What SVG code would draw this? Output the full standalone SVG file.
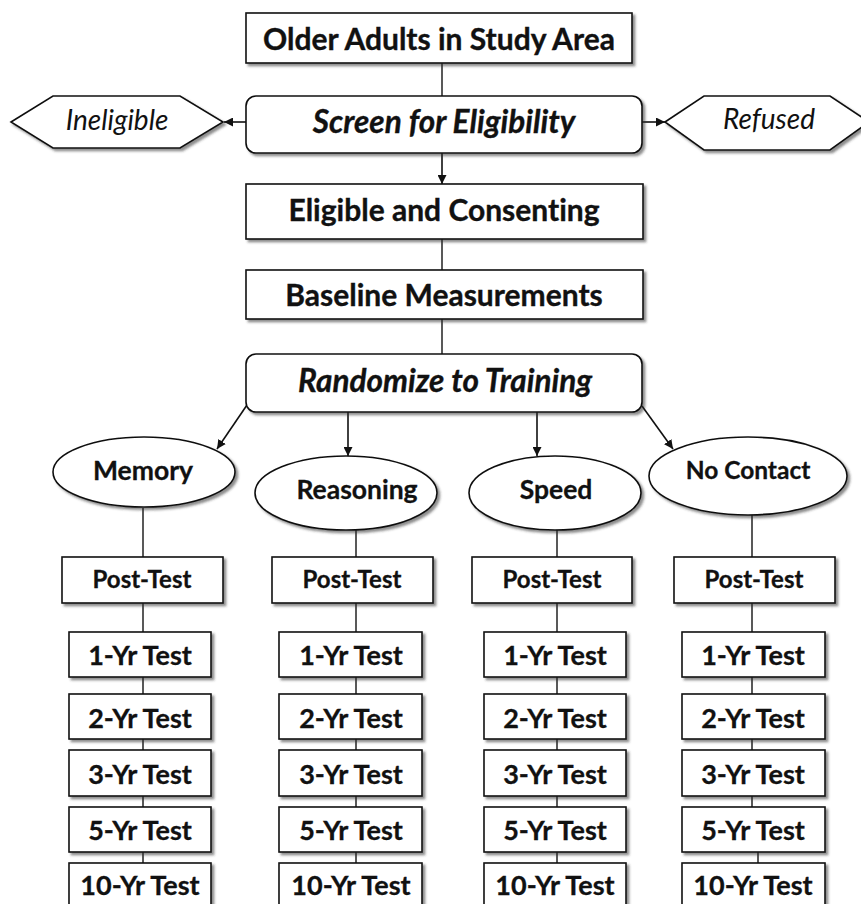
<svg xmlns="http://www.w3.org/2000/svg" width="861" height="904" viewBox="0 0 861 904">
  <defs>
    <filter id="shadow" x="-10%" y="-10%" width="120%" height="130%">
      <feDropShadow dx="2.5" dy="2.5" stdDeviation="0.8" flood-color="#333" flood-opacity="0.55"/>
    </filter>
    <marker id="arrow" viewBox="0 0 10 10" refX="10" refY="5" markerWidth="9" markerHeight="9" markerUnits="userSpaceOnUse" orient="auto">
      <path d="M0,0 L10,5 L0,10 z" fill="#111"/>
    </marker>
    <style>
      .box { fill: #fff; stroke: #111; stroke-width: 1.6; filter: url(#shadow); }
      .line { stroke: #222; stroke-width: 1.5; fill: none; }
      .arr { stroke: #111; stroke-width: 1.6; fill: none; marker-end: url(#arrow); }
      text { font-family: Lato, "Liberation Sans", sans-serif; fill: #111; text-anchor: middle; font-variant-ligatures: none; }
      .big { font-size: 30px; font-weight: bold; stroke: #111; stroke-width: 0.35; }
      .bigi { font-size: 31.5px; font-weight: bold; font-style: italic; stroke: #111; stroke-width: 0.35; }
      .side { font-size: 28px; font-style: italic; }
      .arm { font-size: 26.5px; font-weight: bold; stroke: #111; stroke-width: 0.3; }
      .post { font-size: 24px; font-weight: bold; stroke: #111; stroke-width: 0.3; }
      .yr { font-size: 27px; font-weight: bold; stroke: #111; stroke-width: 0.3; }
    </style>
  </defs>

  <!-- connectors -->
  <g id="connectors">
    <line class="line" x1="442" y1="63" x2="442" y2="96"/>
    <line class="arr" x1="246" y1="122" x2="224" y2="122"/>
    <line class="arr" x1="642" y1="122" x2="665" y2="122"/>
    <line class="arr" x1="442" y1="153" x2="442" y2="184"/>
    <line class="line" x1="442" y1="239" x2="442" y2="270"/>
    <line class="line" x1="442" y1="319" x2="442" y2="354"/>
    <line class="arr" x1="247" y1="405" x2="217" y2="449"/>
    <line class="arr" x1="348" y1="412" x2="348" y2="456"/>
    <line class="arr" x1="537" y1="412" x2="537" y2="456"/>
    <line class="arr" x1="642" y1="406" x2="673" y2="449"/>
    <!-- memory column -->
    <line class="line" x1="143" y1="508" x2="143" y2="557"/>
    <line class="line" x1="143" y1="603" x2="143" y2="632"/>
    <line class="line" x1="143" y1="677" x2="143" y2="694"/>
    <line class="line" x1="143" y1="739" x2="143" y2="750"/>
    <line class="line" x1="143" y1="796" x2="143" y2="807"/>
    <line class="line" x1="143" y1="852" x2="143" y2="863"/>
    <!-- reasoning column -->
    <line class="line" x1="356" y1="530" x2="356" y2="557"/>
    <line class="line" x1="356" y1="603" x2="356" y2="632"/>
    <line class="line" x1="356" y1="677" x2="356" y2="694"/>
    <line class="line" x1="356" y1="739" x2="356" y2="750"/>
    <line class="line" x1="356" y1="796" x2="356" y2="807"/>
    <line class="line" x1="356" y1="852" x2="356" y2="863"/>
    <!-- speed column -->
    <line class="line" x1="557" y1="530" x2="557" y2="557"/>
    <line class="line" x1="557" y1="603" x2="557" y2="632"/>
    <line class="line" x1="557" y1="677" x2="557" y2="694"/>
    <line class="line" x1="557" y1="739" x2="557" y2="750"/>
    <line class="line" x1="557" y1="796" x2="557" y2="807"/>
    <line class="line" x1="557" y1="852" x2="557" y2="863"/>
    <!-- no contact column -->
    <line class="line" x1="752" y1="515" x2="752" y2="557"/>
    <line class="line" x1="752" y1="603" x2="752" y2="632"/>
    <line class="line" x1="752" y1="677" x2="752" y2="694"/>
    <line class="line" x1="752" y1="739" x2="752" y2="750"/>
    <line class="line" x1="752" y1="796" x2="752" y2="807"/>
    <line class="line" x1="758" y1="852" x2="758" y2="863"/>
  </g>

  <g id="older-adults">
    <rect class="box" x="246" y="13" width="386" height="50"/>
    <text class="big" x="439" y="50">Older Adults in Study Area</text>
  </g>

  <g id="screen">
    <rect class="box" x="246" y="96" width="396" height="57" rx="10"/>
    <text class="bigi" x="444" y="133">Screen for Eligibility</text>
  </g>

  <g id="ineligible">
    <polygon class="box" points="11,122 53,96 180,96 223,122 180,148 53,148"/>
    <text class="side" x="117" y="130">Ineligible</text>
  </g>

  <g id="refused">
    <polygon class="box" points="665,122 704,96 830,96 869,122 830,150 704,150"/>
    <text class="side" x="769" y="129">Refused</text>
  </g>

  <g id="eligible">
    <rect class="box" x="246" y="184" width="397" height="55"/>
    <text class="big" x="444" y="221">Eligible and Consenting</text>
  </g>

  <g id="baseline">
    <rect class="box" x="246" y="270" width="397" height="49"/>
    <text class="big" x="444" y="306">Baseline Measurements</text>
  </g>

  <g id="randomize">
    <rect class="box" x="246" y="354" width="396" height="58" rx="10"/>
    <text class="bigi" x="445" y="392">Randomize to Training</text>
  </g>

  <g id="memory">
    <ellipse class="box" cx="144" cy="472" rx="91" ry="35"/>
    <text class="arm" x="143" y="480">Memory</text>
  </g>
  <g id="reasoning">
    <ellipse class="box" cx="346" cy="493" rx="91" ry="37"/>
    <text class="arm" x="357" y="499">Reasoning</text>
  </g>
  <g id="speed">
    <ellipse class="box" cx="555" cy="493" rx="86" ry="37"/>
    <text class="arm" x="556" y="499">Speed</text>
  </g>
  <g id="no-contact">
    <ellipse class="box" cx="748" cy="476" rx="99" ry="39"/>
    <text class="arm" x="748" y="479" style="font-size:24.5px">No Contact</text>
  </g>

  <!-- memory arm -->
  <g id="memory-post"><rect class="box" x="62" y="557" width="161" height="46"/><text class="post" x="142" y="588">Post-Test</text></g>
  <g id="memory-1yr"><rect class="box" x="69" y="632" width="142" height="45"/><text class="yr" x="140" y="665">1-Yr Test</text></g>
  <g id="memory-2yr"><rect class="box" x="69" y="694" width="142" height="45"/><text class="yr" x="140" y="728">2-Yr Test</text></g>
  <g id="memory-3yr"><rect class="box" x="69" y="750" width="142" height="46"/><text class="yr" x="140" y="784">3-Yr Test</text></g>
  <g id="memory-5yr"><rect class="box" x="69" y="807" width="142" height="45"/><text class="yr" x="140" y="840">5-Yr Test</text></g>
  <g id="memory-10yr"><rect class="box" x="69" y="863" width="142" height="50"/><text class="yr" x="140" y="895">10-Yr Test</text></g>

  <!-- reasoning arm -->
  <g id="reasoning-post"><rect class="box" x="272" y="557" width="161" height="46"/><text class="post" x="352" y="588">Post-Test</text></g>
  <g id="reasoning-1yr"><rect class="box" x="279" y="632" width="143" height="45"/><text class="yr" x="351" y="665">1-Yr Test</text></g>
  <g id="reasoning-2yr"><rect class="box" x="279" y="694" width="143" height="45"/><text class="yr" x="351" y="728">2-Yr Test</text></g>
  <g id="reasoning-3yr"><rect class="box" x="279" y="750" width="143" height="46"/><text class="yr" x="351" y="784">3-Yr Test</text></g>
  <g id="reasoning-5yr"><rect class="box" x="279" y="807" width="143" height="45"/><text class="yr" x="351" y="840">5-Yr Test</text></g>
  <g id="reasoning-10yr"><rect class="box" x="279" y="863" width="143" height="50"/><text class="yr" x="351" y="895">10-Yr Test</text></g>

  <!-- speed arm -->
  <g id="speed-post"><rect class="box" x="472" y="557" width="160" height="46"/><text class="post" x="552" y="588">Post-Test</text></g>
  <g id="speed-1yr"><rect class="box" x="484" y="632" width="142" height="45"/><text class="yr" x="555" y="665">1-Yr Test</text></g>
  <g id="speed-2yr"><rect class="box" x="484" y="694" width="142" height="45"/><text class="yr" x="555" y="728">2-Yr Test</text></g>
  <g id="speed-3yr"><rect class="box" x="484" y="750" width="142" height="46"/><text class="yr" x="555" y="784">3-Yr Test</text></g>
  <g id="speed-5yr"><rect class="box" x="484" y="807" width="142" height="45"/><text class="yr" x="555" y="840">5-Yr Test</text></g>
  <g id="speed-10yr"><rect class="box" x="484" y="863" width="142" height="50"/><text class="yr" x="555" y="895">10-Yr Test</text></g>

  <!-- no contact arm -->
  <g id="nocontact-post"><rect class="box" x="674" y="557" width="161" height="46"/><text class="post" x="754" y="588">Post-Test</text></g>
  <g id="nocontact-1yr"><rect class="box" x="682" y="632" width="143" height="45"/><text class="yr" x="753" y="665">1-Yr Test</text></g>
  <g id="nocontact-2yr"><rect class="box" x="682" y="694" width="143" height="45"/><text class="yr" x="753" y="728">2-Yr Test</text></g>
  <g id="nocontact-3yr"><rect class="box" x="682" y="750" width="143" height="46"/><text class="yr" x="753" y="784">3-Yr Test</text></g>
  <g id="nocontact-5yr"><rect class="box" x="682" y="807" width="143" height="45"/><text class="yr" x="753" y="840">5-Yr Test</text></g>
  <g id="nocontact-10yr"><rect class="box" x="682" y="863" width="143" height="50"/><text class="yr" x="753" y="895">10-Yr Test</text></g>
</svg>
